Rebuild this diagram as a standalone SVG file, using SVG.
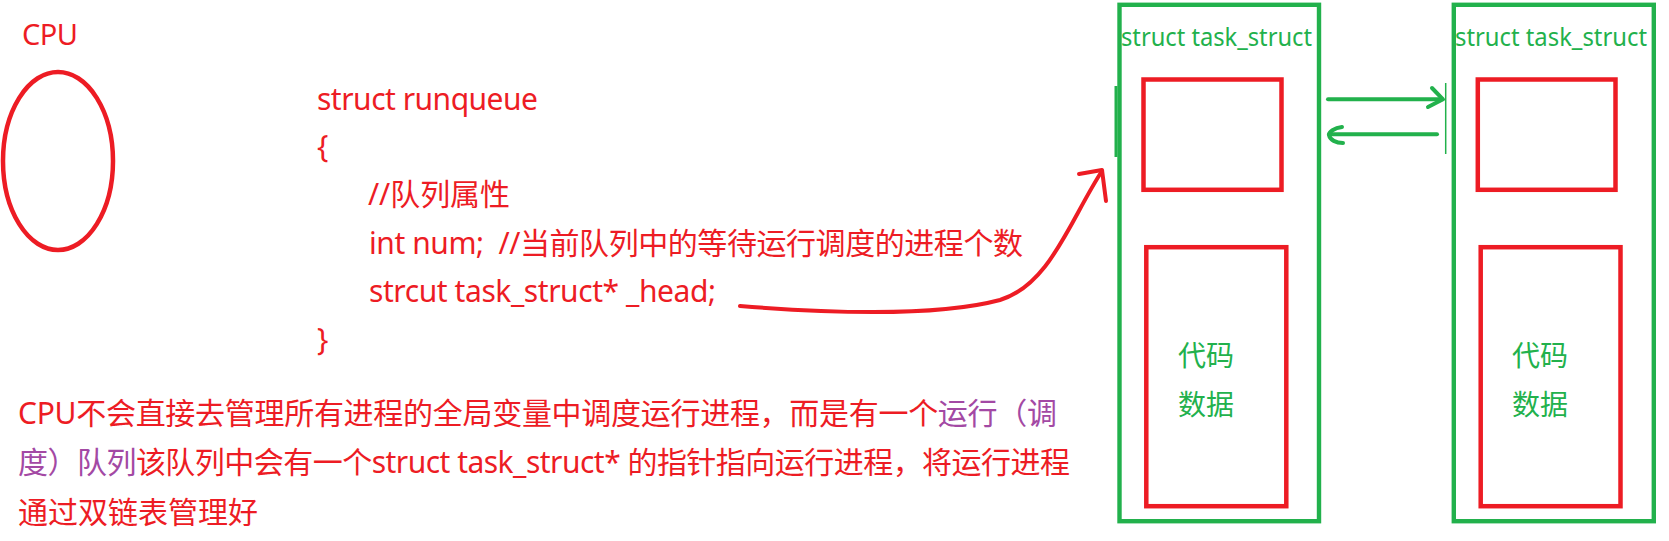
<svg xmlns="http://www.w3.org/2000/svg" width="1669" height="541" viewBox="0 0 1669 541">
<style>
.red{fill:#ED1C24}
.pur{fill:#A349A4}
.grn{fill:#22B14C}
.txt{font-family:"Noto Sans","Noto Sans CJK SC",sans-serif;white-space:pre}
.code{font-size:30px}
.para{font-size:30px}
.title{font-size:26px}
.cd{font-size:28px}
.gbox{fill:none;stroke:#22B14C;stroke-width:4.4}
.rbox{fill:none;stroke:#ED1C24;stroke-width:4.5}
.rline{fill:none;stroke:#ED1C24;stroke-width:4;stroke-linecap:round;stroke-linejoin:round}
.gline{fill:none;stroke:#22B14C;stroke-width:4;stroke-linecap:round;stroke-linejoin:round}
</style>
<rect width="1669" height="541" fill="#ffffff"/>
<g id="cpu">
<text class="txt red" x="22" y="45" font-size="29" textLength="56">CPU</text>
<ellipse cx="58" cy="161" rx="55" ry="89" fill="none" stroke="#ED1C24" stroke-width="4.5"/>
</g>
<g id="runqueue-code" class="txt code red" xml:space="preserve">
<text x="317" y="110" textLength="221">struct runqueue</text>
<text x="317" y="157">{</text>
<text x="368" y="205" textLength="142">//队列属性</text>
<text x="369" y="254" textLength="654" xml:space="preserve">int num;  //当前队列中的等待运行调度的进程个数</text>
<text x="369" y="302" textLength="347">strcut task_struct* _head;</text>
<text x="317" y="350">}</text>
</g>
<g id="note" class="txt para red">
<text x="18" y="424" textLength="1039">CPU不会直接去管理所有进程的全局变量中调度运行进程，而是有一个<tspan class="pur">运行（调</tspan></text>
<text x="18" y="473" textLength="1052"><tspan class="pur">度）队列</tspan>该队列中会有一个struct task_struct* 的指针指向运行进程，将运行进程</text>
<text x="18" y="523">通过双链表管理好</text>
</g>
<g id="task1">
<rect class="gbox" x="1119.5" y="4.8" width="199.5" height="516.4"/>
<text class="txt grn title" x="1121" y="46" textLength="191" lengthAdjust="spacingAndGlyphs">struct task_struct</text>
<rect class="rbox" x="1143.5" y="79.5" width="138" height="110.3"/>
<rect class="rbox" x="1146.3" y="247.2" width="140" height="259"/>
<text class="txt grn cd" x="1178" y="366">代码</text>
<text class="txt grn cd" x="1178" y="415">数据</text>
</g>
<g id="task2">
<rect class="gbox" x="1453.8" y="4.8" width="200" height="516.4"/>
<text class="txt grn title" x="1455" y="46" textLength="192" lengthAdjust="spacingAndGlyphs">struct task_struct</text>
<rect class="rbox" x="1477.8" y="79.5" width="137.7" height="110.3"/>
<rect class="rbox" x="1480.7" y="247.2" width="139.8" height="259"/>
<text class="txt grn cd" x="1512" y="366">代码</text>
<text class="txt grn cd" x="1512" y="415">数据</text>
</g>
<g id="connectors">
<path class="rline" d="M740,306 C840,314 940,316 1000,300 C1050,285 1070,220 1102,171"/>
<path class="rline" d="M1079,174 L1102,170 L1106,201"/>
<path class="gline" d="M1328,99.3 L1442,99.3"/>
<path class="gline" d="M1432,88 L1443,99.3 L1428,107"/>
<line x1="1445.7" y1="83" x2="1445.7" y2="154" stroke="#22B14C" stroke-width="1.5"/>
<path class="gline" d="M1437,134.3 L1329,134.3"/>
<path class="gline" d="M1342,127 C1334,128 1329,132 1329,135 C1330,140 1336,143 1343,143"/>
<line x1="1116" y1="86" x2="1116" y2="157" stroke="#22B14C" stroke-width="3"/>
</g>
</svg>
